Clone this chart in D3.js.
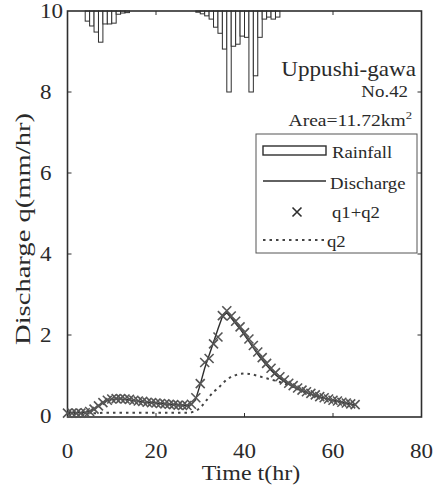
<!DOCTYPE html>
<html>
<head>
<meta charset="utf-8">
<script src="https://cdn.jsdelivr.net/npm/d3@7"></script>
<style>
  html, body { margin: 0; padding: 0; background: #fff; }
  svg { display: block; }
  text { font-family: "Liberation Serif", "Times New Roman", serif; fill: #2a2a2a; }
</style>
</head>
<body>
<svg id="chart" width="433" height="493"></svg>
<script>
// Hourly time steps for the runoff series (hr)
const hours = d3.range(0, 66);

// Observed discharge (mm/hr)
const discharge = [
  0.08, 0.08, 0.08, 0.08, 0.09,
  0.12, 0.18, 0.26, 0.33, 0.38,
  0.41, 0.42, 0.42, 0.41, 0.40,
  0.38, 0.37, 0.35, 0.34, 0.33,
  0.32, 0.31, 0.30, 0.29, 0.28,
  0.27, 0.27, 0.26, 0.28, 0.42,
  0.78, 1.18, 1.50, 1.82, 2.15,
  2.45, 2.55, 2.42, 2.28, 2.15,
  2.00, 1.84, 1.68, 1.52, 1.38,
  1.25, 1.13, 1.02, 0.93, 0.85,
  0.78, 0.72, 0.67, 0.62, 0.58,
  0.54, 0.50, 0.47, 0.44, 0.41,
  0.38, 0.36, 0.34, 0.31, 0.29, 0.27
];

// Computed q1 + q2 (mm/hr)
const q1q2 = [
  0.07, 0.07, 0.07, 0.07, 0.08,
  0.11, 0.17, 0.25, 0.33, 0.39,
  0.42, 0.43, 0.43, 0.42, 0.41,
  0.39, 0.37, 0.36, 0.34, 0.33,
  0.32, 0.31, 0.30, 0.29, 0.28,
  0.27, 0.26, 0.26, 0.29, 0.45,
  0.80, 1.32, 1.42, 1.78, 1.95,
  2.48, 2.60, 2.47, 2.34, 2.20,
  2.06, 1.90, 1.74, 1.58, 1.44,
  1.30, 1.18, 1.07, 0.97, 0.89,
  0.81, 0.75, 0.69, 0.64, 0.60,
  0.56, 0.52, 0.48, 0.45, 0.42,
  0.39, 0.37, 0.34, 0.32, 0.30, 0.28
];

// Computed q2 component (mm/hr)
const q2 = [
  0.06, 0.06, 0.06, 0.06, 0.06,
  0.06, 0.07, 0.07, 0.08, 0.08,
  0.08, 0.08, 0.08, 0.08, 0.08,
  0.08, 0.08, 0.08, 0.08, 0.08,
  0.08, 0.08, 0.08, 0.08, 0.08,
  0.08, 0.08, 0.08, 0.09, 0.12,
  0.20, 0.33, 0.47, 0.60, 0.68,
  0.80, 0.90, 0.97, 1.01, 1.04,
  1.05, 1.04, 1.02, 0.99, 0.96,
  0.93, 0.90, 0.87, 0.84, 0.80,
  0.76, 0.72, 0.67, 0.62, 0.58,
  0.54, 0.50, 0.47, 0.44, 0.41,
  0.38, 0.36, 0.34, 0.31, 0.29, 0.27
];

// Hourly rainfall (mm/hr), hour of start of each interval
const rainHours = [4, 5, 6, 7, 8, 9, 10, 11, 12, 13,
  29, 30, 31, 32, 33, 34, 35, 36, 37, 38, 39, 40, 41, 42, 43, 44, 45, 46, 47];
const rainValues = [0.25, 0.37, 0.52, 0.77, 0.32, 0.32, 0.30, 0.08, 0.05, 0.04,
  0.03, 0.07, 0.12, 0.20, 0.40, 0.55, 0.94, 2.00, 0.87, 0.82, 0.62, 0.65, 2.00, 1.60, 0.65, 0.20, 0.15, 0.20, 0.15];

// Axis ticks
const xTicks = [0, 20, 40, 60, 80];
const yTicks = [0, 2, 4, 6, 8, 10];

const ink = "#2e2e2e";
const svg = d3.select("#chart");

const x = d3.scaleLinear().domain([0, 80]).range([67.5, 421.5]);
const y = d3.scaleLinear().domain([0, 10]).range([416, 11]);
// Rainfall hangs from the top edge on the same unit spacing
const r = d3.scaleLinear().domain([0, 10]).range([11, 416]);

// Text in a slightly wide serif face: positioned, then stretched horizontally
function label(parent, str, px, py, size, anchor, sx, rotate) {
  const t = parent.append("text")
    .attr("transform", `translate(${px},${py})` + (rotate ? ` rotate(${rotate})` : "") + ` scale(${sx},1)`)
    .attr("text-anchor", anchor)
    .attr("font-size", size)
    .text(str);
  return t;
}

// Rainfall hyetograph
svg.append("g").selectAll("rect")
  .data(rainHours.map((h, i) => ({ h, v: rainValues[i] })))
  .join("rect")
  .attr("x", d => x(d.h))
  .attr("y", r(0))
  .attr("width", d => x(d.h + 1) - x(d.h))
  .attr("height", d => r(d.v) - r(0))
  .attr("fill", "#fff")
  .attr("stroke", ink)
  .attr("stroke-width", 1);

// Frame
svg.append("rect")
  .attr("x", x(0)).attr("y", y(10))
  .attr("width", x(80) - x(0)).attr("height", y(0) - y(10) + 1)
  .attr("fill", "none").attr("stroke", ink).attr("stroke-width", 1.6);

// Inward ticks on all four sides
const tickLen = 4;
const ticks = svg.append("g").attr("stroke", ink).attr("stroke-width", 1);
xTicks.slice(1, -1).forEach(t => {
  ticks.append("line").attr("x1", x(t)).attr("x2", x(t)).attr("y1", y(0) + 1).attr("y2", y(0) + 1 - tickLen);
  ticks.append("line").attr("x1", x(t)).attr("x2", x(t)).attr("y1", y(10)).attr("y2", y(10) + tickLen);
});
yTicks.slice(1, -1).forEach(t => {
  ticks.append("line").attr("x1", x(0)).attr("x2", x(0) + tickLen).attr("y1", y(t)).attr("y2", y(t));
  ticks.append("line").attr("x1", x(80)).attr("x2", x(80) - tickLen).attr("y1", y(t)).attr("y2", y(t));
});

// Tick labels
const gx = svg.append("g");
xTicks.forEach(d => label(gx, d, x(d), 458, 20, "middle", 1.15));
const gy = svg.append("g");
yTicks.forEach(d => label(gy, d, 40, y(d) + 7, 20, "start", 1.15));

// Axis titles
label(svg, "Time t(hr)", 251, 480, 20, "middle", 1.2);
label(svg, "Discharge q(mm/hr)", 30, 229, 22, "middle", 1.3, -90);

// Series
const lineOf = arr => d3.line().x((d, i) => x(hours[i])).y(d => y(d))(arr);

svg.append("path")
  .attr("d", lineOf(q2))
  .attr("fill", "none").attr("stroke", "#444")
  .attr("stroke-width", 2).attr("stroke-dasharray", "2.5,4");

svg.append("path")
  .attr("d", lineOf(discharge))
  .attr("fill", "none").attr("stroke", ink)
  .attr("stroke-width", 1.4);

const cross = "M-4.5,-4.5L4.5,4.5M-4.5,4.5L4.5,-4.5";
svg.append("g").selectAll("path")
  .data(q1q2).join("path")
  .attr("transform", (d, i) => `translate(${x(hours[i])},${y(d)})`)
  .attr("d", cross)
  .attr("fill", "none").attr("stroke", "#555").attr("stroke-width", 1.6);

// Station annotations
label(svg, "Uppushi-gawa", 416, 76, 22, "end", 1.05);
label(svg, "No.42", 408, 97, 16, "end", 1.18);
const area = label(svg, "", 412, 126, 17, "end", 1.15);
area.append("tspan").text("Area=11.72km");
area.append("tspan").attr("dy", -7).attr("font-size", 11).text("2");

// Legend
const lg = svg.append("g");
lg.append("rect").attr("x", 256).attr("y", 134).attr("width", 161).attr("height", 119)
  .attr("fill", "#fff").attr("stroke", "#555").attr("stroke-width", 1);
lg.append("rect").attr("x", 263).attr("y", 146).attr("width", 63).attr("height", 9)
  .attr("fill", "#fff").attr("stroke", ink).attr("stroke-width", 1.4);
lg.append("line").attr("x1", 263).attr("x2", 326).attr("y1", 181).attr("y2", 181)
  .attr("stroke", ink).attr("stroke-width", 1.4);
lg.append("path").attr("transform", "translate(297,212)").attr("d", cross)
  .attr("fill", "none").attr("stroke", ink).attr("stroke-width", 1.6);
lg.append("line").attr("x1", 263).attr("x2", 326).attr("y1", 240).attr("y2", 240)
  .attr("stroke", "#444").attr("stroke-width", 2).attr("stroke-dasharray", "2.5,4");
const legendLabels = ["Rainfall", "Discharge", "q1+q2", "q2"];
const legendY = [158, 189, 218, 247];
const legendX = [332, 330, 332, 327];
legendLabels.forEach((d, i) => label(lg, d, legendX[i], legendY[i], 17.5, "start", 1.07));
</script>
</body>
</html>
